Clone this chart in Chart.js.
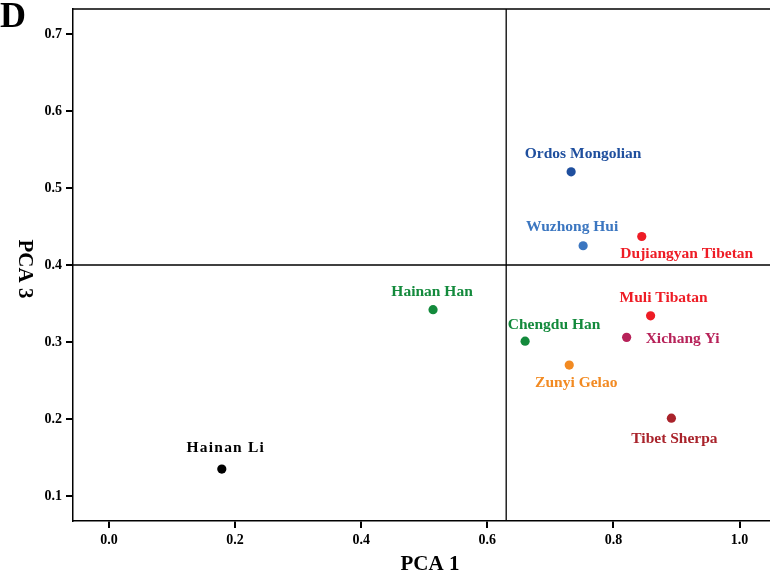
<!DOCTYPE html>
<html>
<head>
<meta charset="utf-8">
<script src="https://cdn.jsdelivr.net/npm/chart.js@4.4.1/dist/chart.umd.min.js"></script>
<style>
  html, body { margin: 0; padding: 0; background: #fff; overflow: hidden; }
  #wrap { width: 775px; height: 574px; position: relative; }
</style>
</head>
<body>
<div id="wrap"><canvas id="stage"></canvas></div>
<script>
// 集団名
var POPS = ['Hainan Li','Hainan Han','Chengdu Han','Zunyi Gelao','Xichang Yi','Muli Tibatan','Tibet Sherpa','Ordos Mongolian','Wuzhong Hui','Dujiangyan Tibetan'];
// PCA1 / PCA3 の値
var PCA1 = [0.179,0.514,0.660,0.730,0.821,0.859,0.892,0.733,0.752,0.845];
var PCA3 = [0.135,0.342,0.301,0.270,0.306,0.334,0.201,0.521,0.425,0.437];
// 点の色
var COLORS = ['#000000','#138a3c','#138a3c','#f28a22','#b72259','#ee1c25','#a9232b','#1f4f9e','#3b76c0','#ee1c25'];
// 軸目盛
var X_TICKS = [0.0,0.2,0.4,0.6,0.8,1.0];
var Y_TICKS = [0.1,0.2,0.3,0.4,0.5,0.6,0.7];
var X_RANGE = [-0.057,1.049];
var Y_RANGE = [0.0675,0.7325];
// 基準線
var REF_X = 0.63;
var REF_Y = 0.4;

var SERIF = '"Liberation Serif", "DejaVu Serif", serif';

// ラベルの位置(点からのずれ px)
var LABEL_OFF = [[4,-21],[-1,-18],[29,-16],[7,18],[56,2],[13,-18],[3,21],[12,-18],[-11,-19],[45,17]];

var pts = [];
for (let i = 0; i < POPS.length; i++) pts.push({x: PCA1[i], y: PCA3[i]});

function setSpacing(ctx, s){
  if ('letterSpacing' in ctx) ctx.letterSpacing = s;
}

var labelPlugin = {
  id: 'popLabels',
  afterDatasetsDraw: function(chart){
    var ctx = chart.ctx;
    var meta = chart.getDatasetMeta(2);
    ctx.save();
    ctx.font = 'bold 15.5px ' + SERIF;
    ctx.textAlign = 'center';
    ctx.textBaseline = 'middle';
    for (let i = 0; i < meta.data.length; i++){
      var p = meta.data[i];
      ctx.fillStyle = COLORS[i];
      setSpacing(ctx, i == 0 ? '1.2px' : '0px');
      ctx.fillText(POPS[i], p.x + LABEL_OFF[i][0], p.y + LABEL_OFF[i][1]);
    }
    setSpacing(ctx, '0px');
    // 上枠線
    var a = chart.chartArea;
    ctx.strokeStyle = '#000';
    ctx.lineWidth = 1.5;
    ctx.beginPath();
    ctx.moveTo(a.left, a.top);
    ctx.lineTo(a.right, a.top);
    ctx.stroke();
    // 軸タイトル
    ctx.fillStyle = '#000';
    ctx.font = 'bold 21px ' + SERIF;
    ctx.textAlign = 'center';
    ctx.textBaseline = 'middle';
    ctx.fillText('PCA 1', 430, 565);
    ctx.save();
    ctx.translate(24, 269);
    ctx.rotate(Math.PI / 2);
    ctx.fillText('PCA 3', 0, 0);
    ctx.restore();
    // パネル記号
    ctx.font = 'bold 36px ' + SERIF;
    ctx.textAlign = 'left';
    ctx.textBaseline = 'alphabetic';
    ctx.fillText('D', 0, 27);
    ctx.restore();
  }
};

var canvas = document.getElementById('stage');
new Chart(canvas, {
  type: 'scatter',
  data: {
    datasets: [
      {
        data: [{x: REF_X, y: Y_RANGE[0]}, {x: REF_X, y: Y_RANGE[1]}],
        showLine: true, borderColor: '#000', borderWidth: 1.3, pointRadius: 0
      },
      {
        data: [{x: X_RANGE[0], y: REF_Y}, {x: X_RANGE[1], y: REF_Y}],
        showLine: true, borderColor: '#000', borderWidth: 1.3, pointRadius: 0
      },
      {
        data: pts,
        pointRadius: 4.6,
        pointBackgroundColor: COLORS,
        pointBorderColor: COLORS,
        pointBorderWidth: 0
      }
    ]
  },
  options: {
    responsive: true,
    maintainAspectRatio: false,
    animation: false,
    layout: { padding: { top: 9, right: 0, left: 0, bottom: 0 } },
    plugins: { legend: { display: false }, tooltip: { enabled: false } },
    scales: {
      x: {
        type: 'linear', min: X_RANGE[0], max: X_RANGE[1],
        afterBuildTicks: function(s){ s.ticks = X_TICKS.map(v => ({value: v})); },
        afterFit: function(s){ s.height = 53; s.paddingLeft = 0; s.paddingRight = 0; },
        grid: { drawOnChartArea: false, color: '#000', lineWidth: 2, tickLength: 7 },
        border: { color: '#000', width: 1.5 },
        ticks: { color: '#000', padding: 4, font: { family: SERIF, size: 14, weight: 'bold' },
          callback: v => v.toFixed(1) }
      },
      y: {
        type: 'linear', min: Y_RANGE[0], max: Y_RANGE[1],
        afterBuildTicks: function(s){ s.ticks = Y_TICKS.map(v => ({value: v})); },
        afterFit: function(s){ s.width = 73; s.paddingTop = 0; s.paddingBottom = 0; },
        grid: { drawOnChartArea: false, color: '#000', lineWidth: 2, tickLength: 7 },
        border: { color: '#000', width: 1.5 },
        ticks: { color: '#000', padding: 4, font: { family: SERIF, size: 14, weight: 'bold' },
          callback: v => v.toFixed(1) }
      }
    }
  },
  plugins: [labelPlugin]
});
</script>
</body>
</html>
